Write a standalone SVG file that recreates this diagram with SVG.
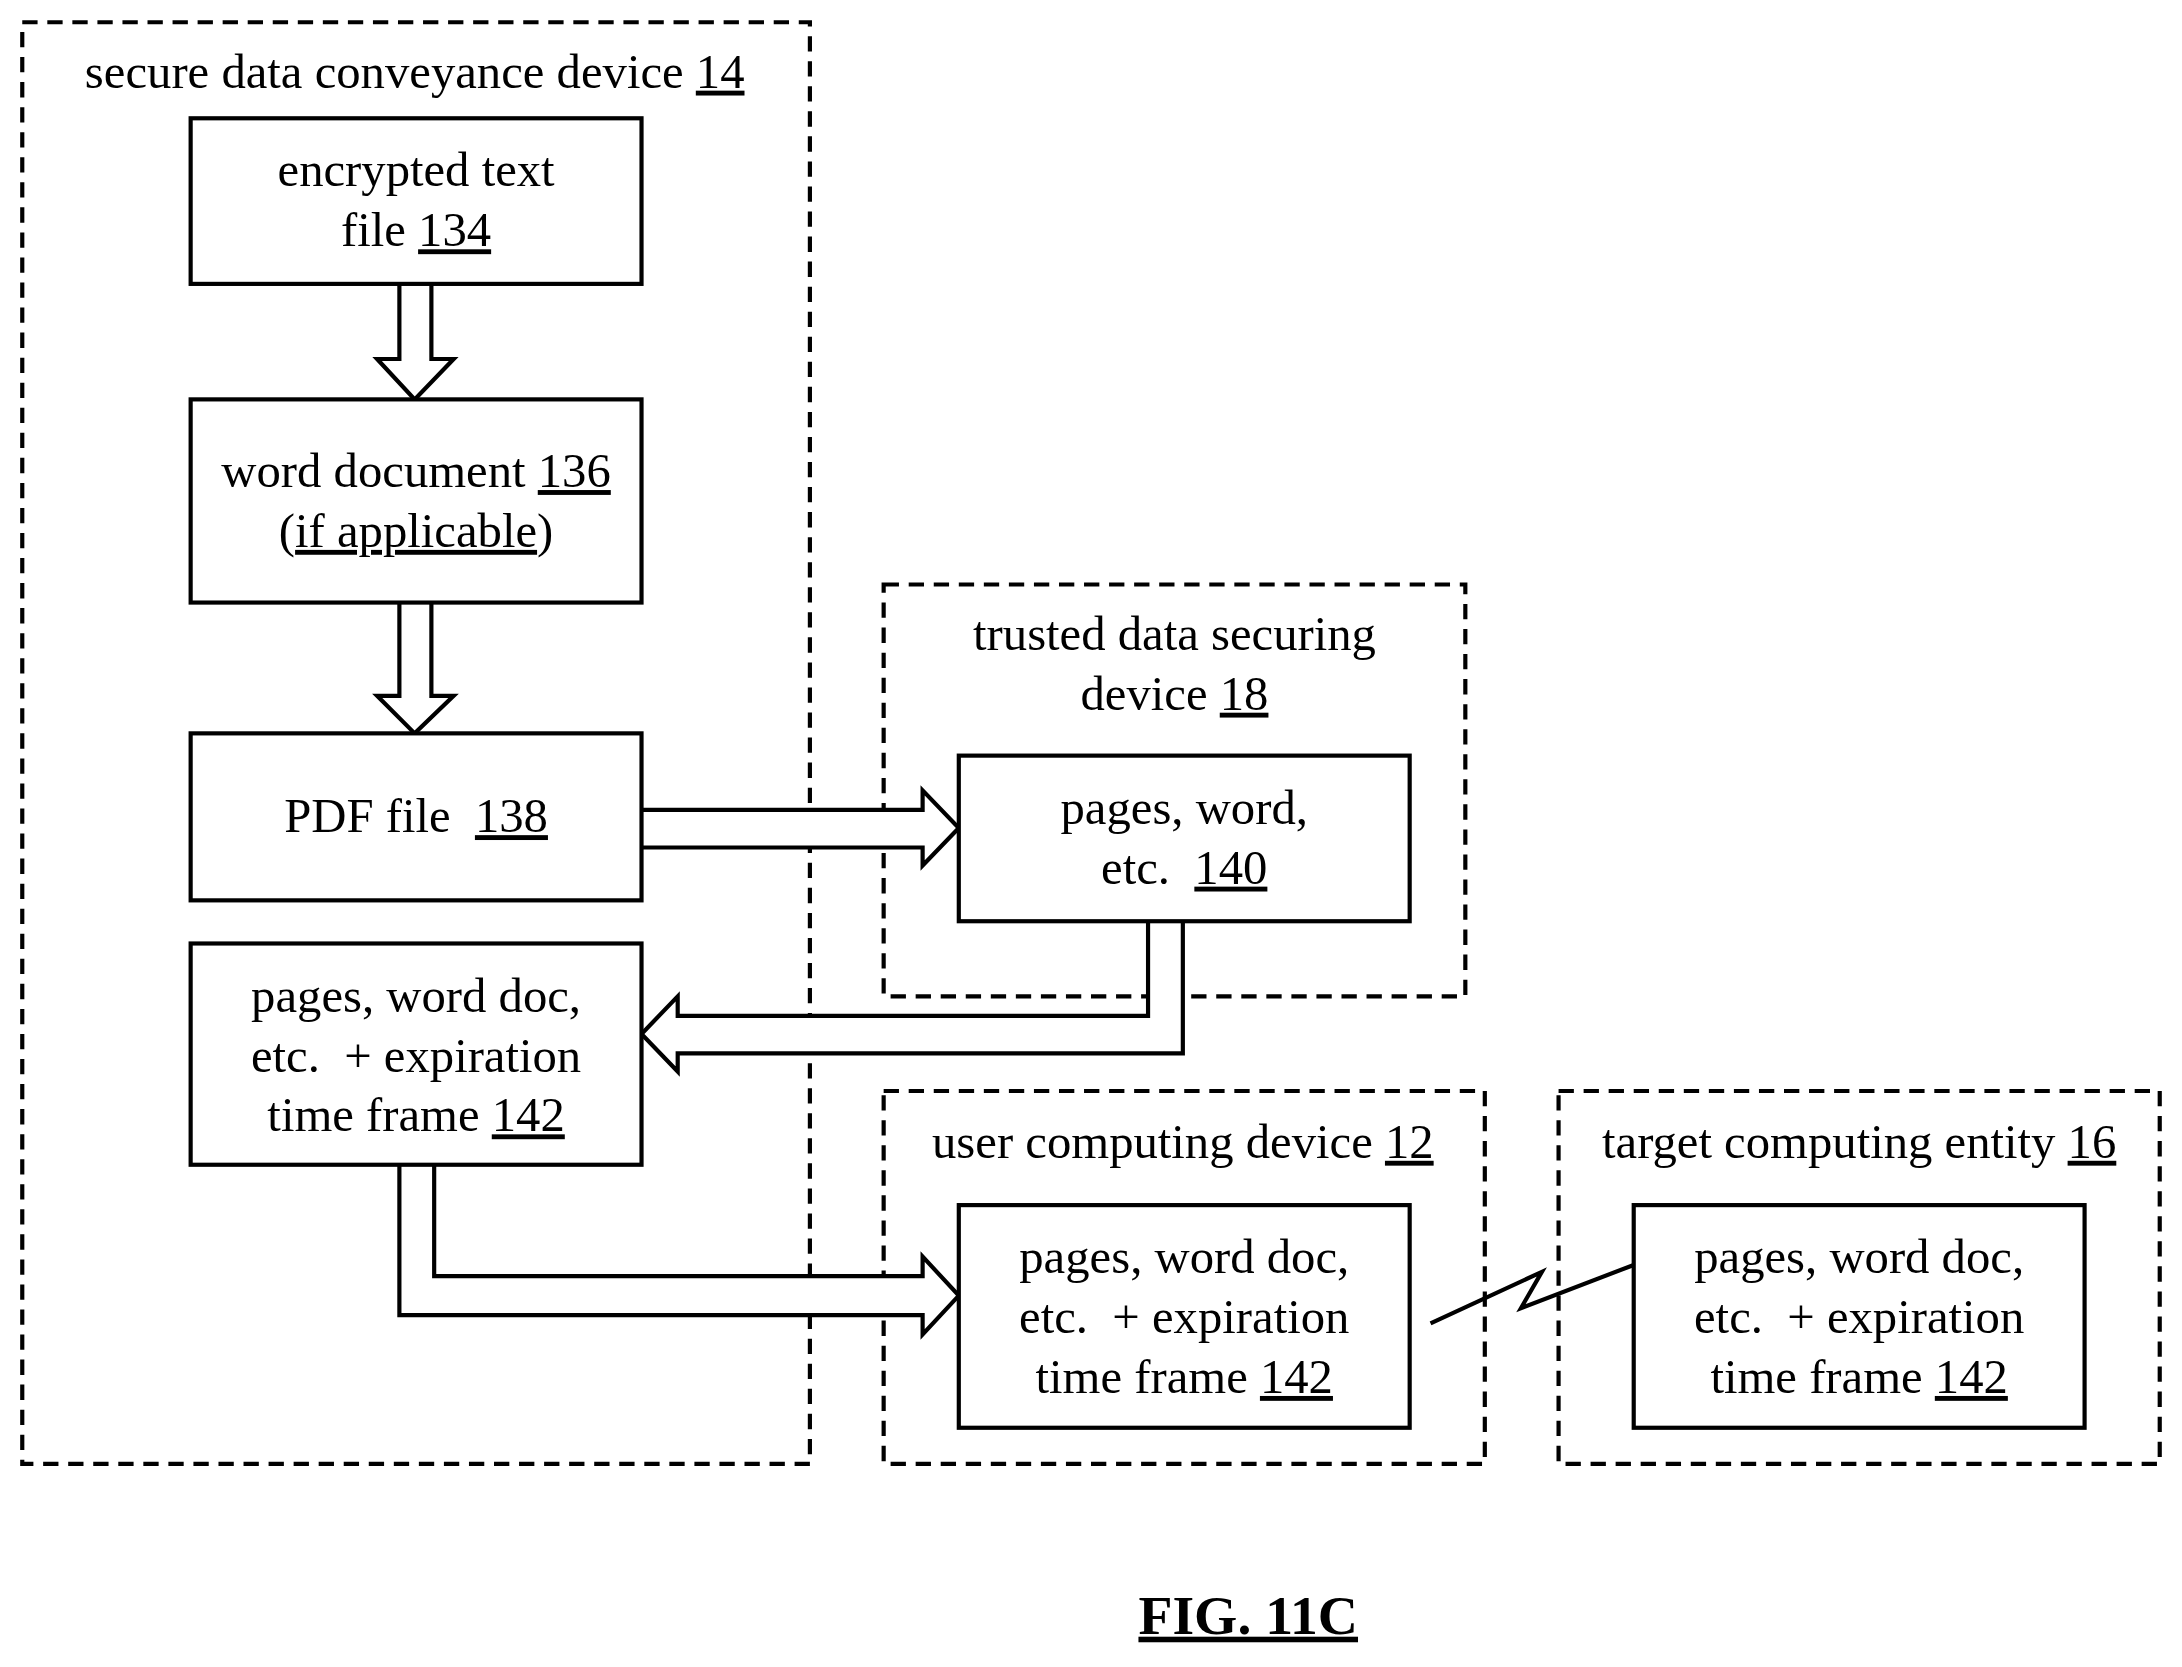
<svg xmlns="http://www.w3.org/2000/svg" width="2182" height="1667" viewBox="0 0 2182 1667">
<style>
text{font-family:"Liberation Serif","Times New Roman",serif;font-size:35px;fill:#000;text-anchor:middle;white-space:pre}
.u{text-decoration:underline}
.box{fill:#fff;stroke:#000;stroke-width:3}
.dash{fill:none;stroke:#000;stroke-width:3;stroke-dasharray:11,7}
.ar{fill:#fff;stroke:#000;stroke-width:3;stroke-linejoin:miter}
.ln{fill:none;stroke:#000;stroke-width:3}
</style>
<rect width="2182" height="1667" fill="#fff"/>
<g transform="scale(1.39158)">
<g id="device14"><rect class="dash" x="16" y="16" width="566" height="1036"/>
<text x="298" y="63">secure data conveyance device <tspan class="u">14</tspan></text></g>
<g id="device18"><rect class="dash" x="635" y="420" width="418" height="296"/>
<text x="844" y="467">trusted data securing</text><text x="844" y="510">device <tspan class="u">18</tspan></text></g>
<g id="device12"><rect class="dash" x="635" y="784" width="432" height="268"/>
<text x="850" y="832">user computing device <tspan class="u">12</tspan></text></g>
<g id="entity16"><rect class="dash" x="1120" y="784" width="432" height="268"/>
<text x="1336" y="832">target computing entity <tspan class="u">16</tspan></text></g>
<g id="connectors">
<path class="ar" d="M287,204 V258 H271 L298,287 L326,258 H310 V204"/>
<path class="ar" d="M287,433 V500 H271 L298,527 L326,500 H310 V433"/>
<path class="ar" d="M461,582 H663 V568 L689,595 L663,622 V609 H461"/>
<path class="ar" d="M825,662 V730 H487 V716 L461,743 L487,770 V757 H850 V662"/>
<path class="ar" d="M312,837 V917 H663 V903 L689,931 L663,959 V945 H287 V837"/>
<polyline class="ln" points="1028,951 1108,914 1093,940 1174,909"/>
</g>
<g id="n134"><rect class="box" x="137" y="85" width="324" height="119"/>
<text x="299" y="134">encrypted text</text><text x="299" y="177">file <tspan class="u">134</tspan></text></g>
<g id="n136"><rect class="box" x="137" y="287" width="324" height="146"/>
<text x="299" y="350">word document <tspan class="u">136</tspan></text><text x="299" y="393">(<tspan class="u">if applicable</tspan>)</text></g>
<g id="n138"><rect class="box" x="137" y="527" width="324" height="120"/>
<text x="299" y="598">PDF file  <tspan class="u">138</tspan></text></g>
<g id="n140"><rect class="box" x="689" y="543" width="324" height="119"/>
<text x="851" y="592">pages, word,</text><text x="851" y="635">etc.  <tspan class="u">140</tspan></text></g>
<g id="n142a"><rect class="box" x="137" y="678" width="324" height="159"/>
<text x="299" y="727">pages, word doc,</text><text x="299" y="770">etc.  + expiration</text><text x="299" y="813">time frame <tspan class="u">142</tspan></text></g>
<g id="n142b"><rect class="box" x="689" y="866" width="324" height="160"/>
<text x="851" y="915">pages, word doc,</text><text x="851" y="958">etc.  + expiration</text><text x="851" y="1001">time frame <tspan class="u">142</tspan></text></g>
<g id="n142c"><rect class="box" x="1174" y="866" width="324" height="160"/>
<text x="1336" y="915">pages, word doc,</text><text x="1336" y="958">etc.  + expiration</text><text x="1336" y="1001">time frame <tspan class="u">142</tspan></text></g>
<text x="897" y="1174" class="u" style="font-weight:bold;font-size:40px">FIG. 11C</text>
</g>
</svg>
